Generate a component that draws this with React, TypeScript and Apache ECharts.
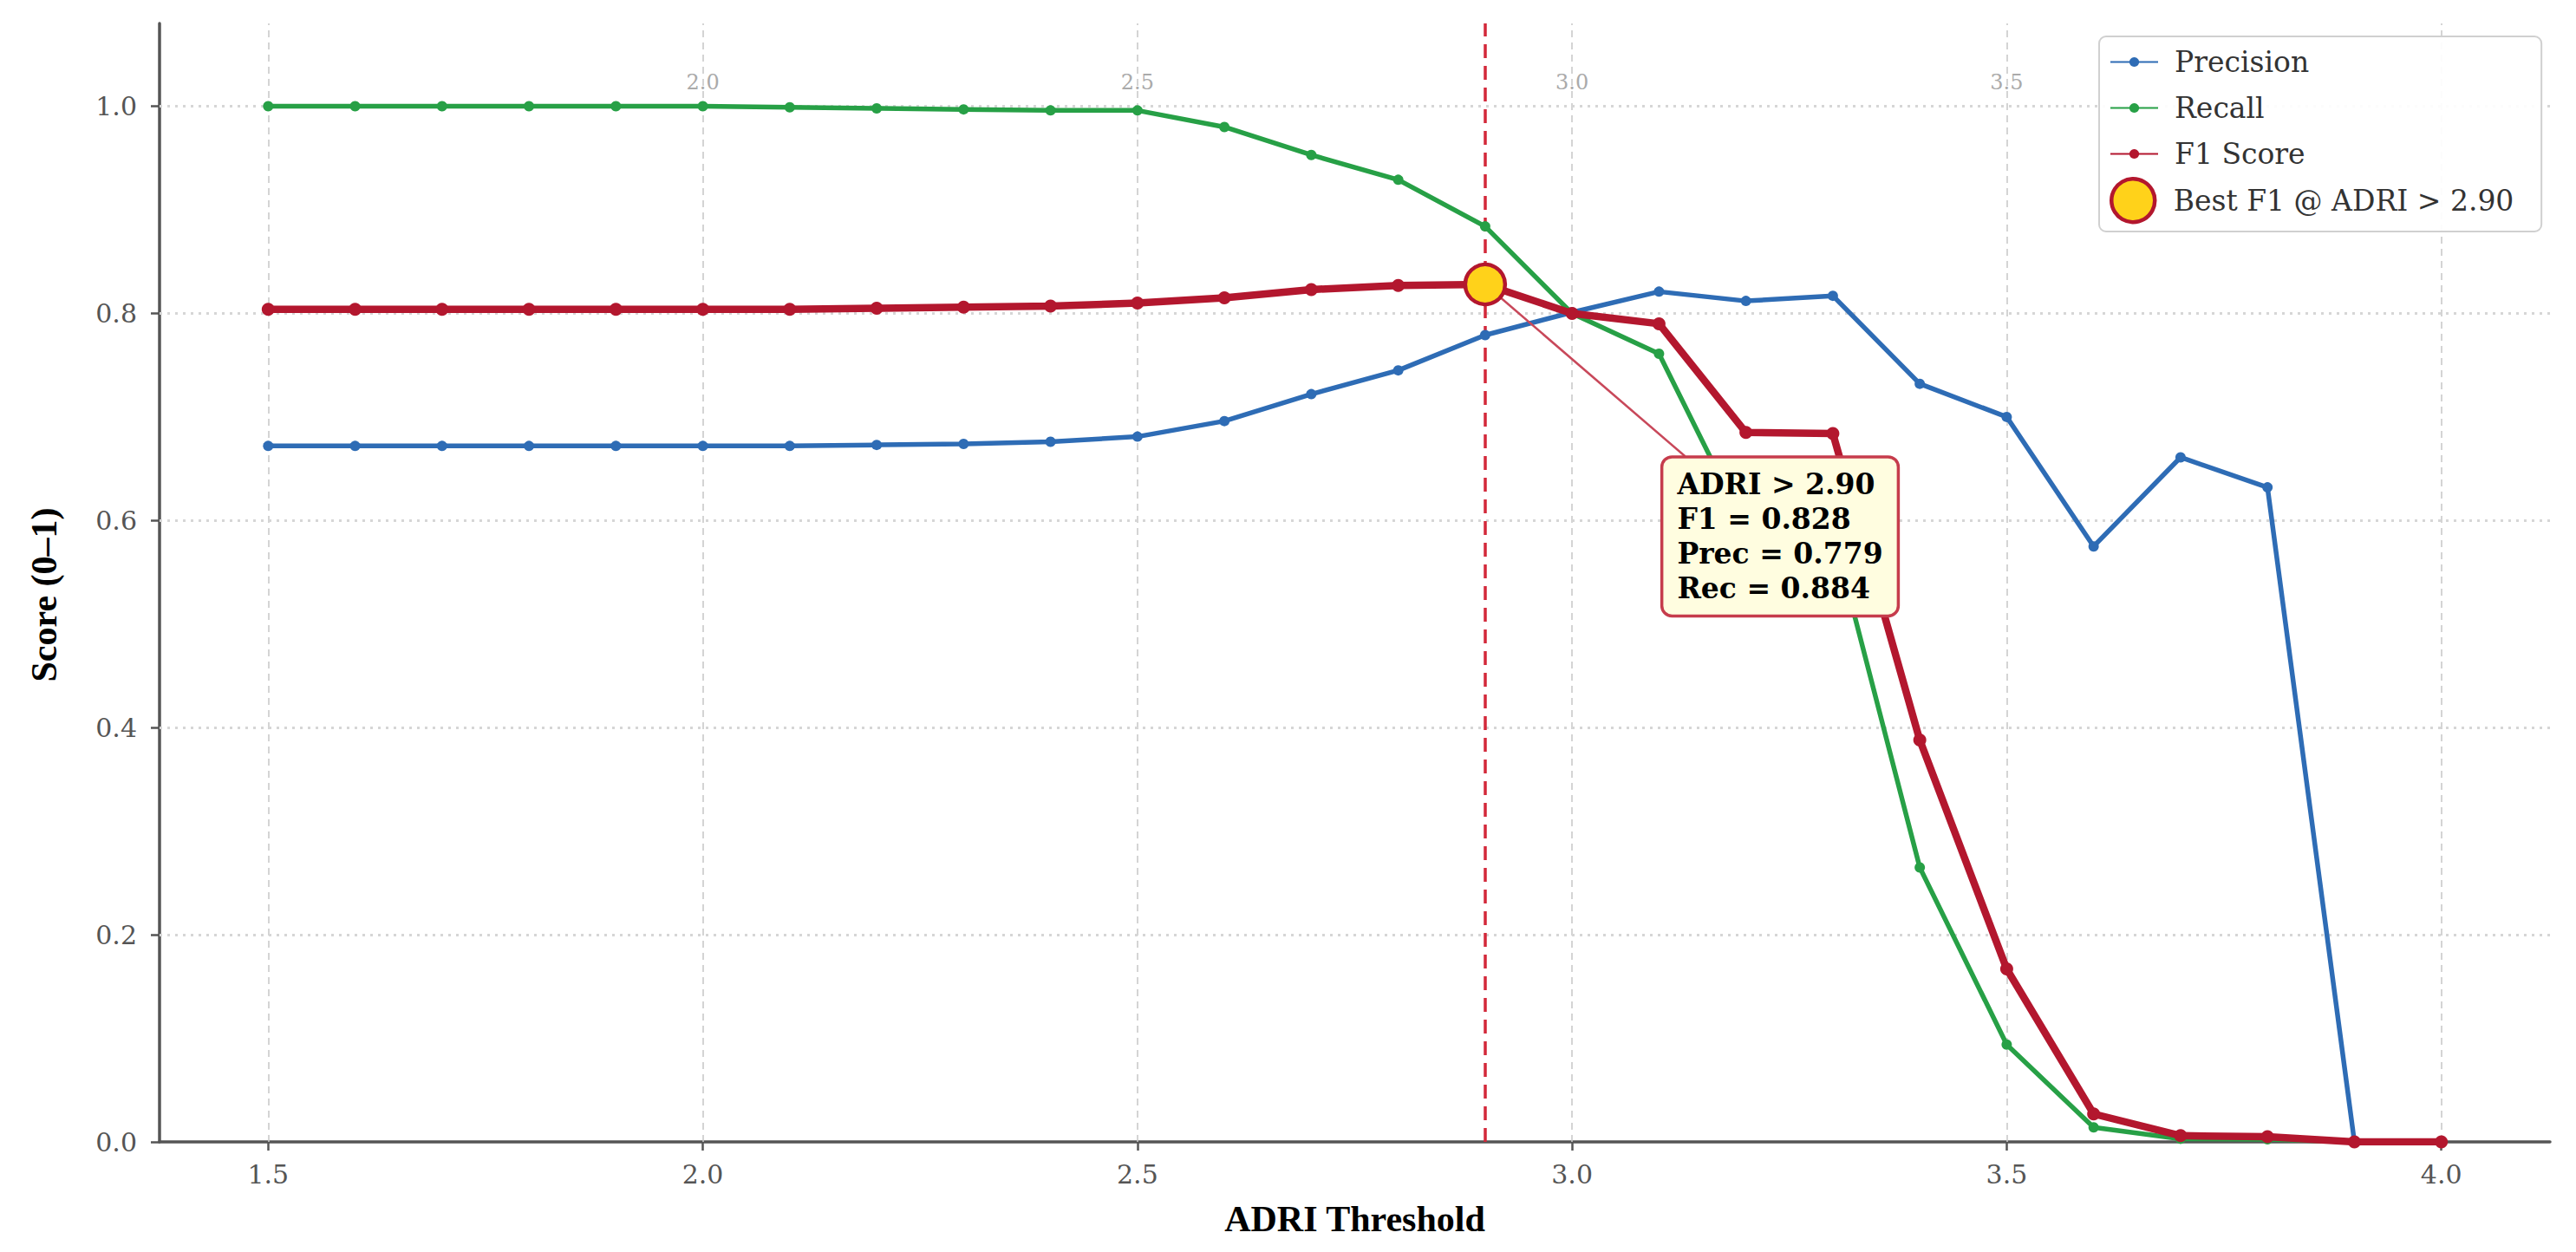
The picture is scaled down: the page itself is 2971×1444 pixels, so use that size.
import React, { useEffect, useRef } from "react";
import * as echarts from "echarts";

// ---------- data ----------
const thresholds = [
  1.5, 1.6, 1.7, 1.8, 1.9, 2.0, 2.1, 2.2, 2.3, 2.4, 2.5, 2.6, 2.7,
  2.8, 2.9, 3.0, 3.1, 3.2, 3.3, 3.4, 3.5, 3.6, 3.7, 3.8, 3.9, 4.0,
];
const precision = [
  0.672, 0.672, 0.672, 0.672, 0.672, 0.672, 0.672, 0.673, 0.674, 0.676, 0.681, 0.696, 0.722,
  0.745, 0.779, 0.801, 0.821, 0.812, 0.817, 0.732, 0.7, 0.575, 0.661, 0.632, 0.0, 0.0,
];
const recall = [
  1.0, 1.0, 1.0, 1.0, 1.0, 1.0, 0.999, 0.998, 0.997, 0.996, 0.996, 0.98, 0.953,
  0.929, 0.884, 0.8, 0.761, 0.592, 0.589, 0.265, 0.094, 0.014, 0.003, 0.0025, 0.0, 0.0,
];
const f1Score = [
  0.804, 0.804, 0.804, 0.804, 0.804, 0.804, 0.804, 0.805, 0.806, 0.807, 0.81, 0.815, 0.823,
  0.827, 0.828, 0.8, 0.79, 0.685, 0.684, 0.388, 0.167, 0.027, 0.006, 0.005, 0.0, 0.0,
];

const xTickValues = [1.5, 2.0, 2.5, 3.0, 3.5, 4.0];
const topTickValues = [2.0, 2.5, 3.0, 3.5];
const yTickValues = [0.0, 0.2, 0.4, 0.6, 0.8, 1.0];
const yGridValues = [0.2, 0.4, 0.6, 0.8, 1.0];

const bestThreshold = 2.9;
const bestF1 = 0.828;
const bestPrec = 0.779;
const bestRec = 0.884;
const annotationAnchor = [3.105, 0.66];
const connectorEnd = [3.13, 0.662];

const X_MIN = 1.375;
const X_MAX = 4.125;
const Y_MIN = 0;
const Y_MAX = 1.08;

// ---------- styles ----------
const BLUE = "#2e6cb5";
const GREEN = "#27a046";
const RED = "#b3172e";
const DASH_RED = "#d3283a";
const GOLD = "#ffd21a";
const SERIF = "DejaVu Serif";
const TIMES = "Liberation Serif";

const bestName = `Best F1 @ ADRI > ${bestThreshold.toFixed(2)}`;

export default function App() {
  const ref = useRef<HTMLDivElement | null>(null);

  useEffect(() => {
    document.body.style.margin = "0";
    document.body.style.overflow = "hidden";
    if (!ref.current) return;
    const chart = echarts.init(ref.current, null, { renderer: "svg" });

    const toPairs = (ys: number[]) => thresholds.map((t, i) => [t, ys[i]]);

    const option: any = {
      animation: false,
      backgroundColor: "#ffffff",
      grid: { left: 184, right: 30, top: 27, bottom: 127, containLabel: false },
      xAxis: [
        {
          type: "value",
          min: X_MIN,
          max: X_MAX,
          name: "ADRI Threshold",
          nameLocation: "middle",
          nameGap: 68,
          nameTextStyle: { fontFamily: TIMES, fontWeight: "bold", fontSize: 42, color: "#000" },
          axisLine: { show: true, lineStyle: { color: "#555", width: 3.5 } },
          axisTick: { show: true, customValues: xTickValues, length: 10, lineStyle: { color: "#555", width: 2.5 } },
          axisLabel: {
            customValues: xTickValues,
            formatter: (v: number) => v.toFixed(1),
            margin: 22,
            fontFamily: SERIF,
            fontSize: 30,
            color: "#555",
          },
          splitLine: { show: false },
        },
        {
          type: "value",
          position: "top",
          min: X_MIN,
          max: X_MAX,
          axisLine: { show: false },
          axisTick: { show: false },
          axisLabel: {
            inside: true,
            customValues: topTickValues,
            formatter: (v: number) => v.toFixed(1),
            margin: 56,
            fontFamily: SERIF,
            fontSize: 24,
            color: "#aaaaaa",
          },
          splitLine: { show: false },
        },
      ],
      yAxis: {
        type: "value",
        min: Y_MIN,
        max: Y_MAX,
        name: "Score (0\u20131)",
        nameLocation: "middle",
        nameGap: 112,
        nameTextStyle: {
          fontFamily: TIMES,
          fontWeight: "bold",
          fontSize: 42,
          color: "#000",
          padding: [0, 28, 0, 0],
        },
        axisLine: { show: true, lineStyle: { color: "#555", width: 3.5 } },
        axisTick: { show: true, customValues: yTickValues, length: 10, lineStyle: { color: "#555", width: 2.5 } },
        axisLabel: {
          customValues: yTickValues,
          formatter: (v: number) => v.toFixed(1),
          margin: 26,
          fontFamily: SERIF,
          fontSize: 30,
          color: "#555",
        },
        splitLine: { show: false },
      },
      legend: [
        {
          data: ["Precision", "Recall", "F1 Score"],
          orient: "vertical",
          left: 2421,
          top: 42,
          itemWidth: 55,
          itemHeight: 14,
          itemGap: 20,
          padding: [13, 268, 73, 12],
          backgroundColor: "rgba(255,255,255,0.92)",
          borderColor: "#d0d0d0",
          borderWidth: 2,
          borderRadius: 8,
          selectedMode: false,
          textStyle: { fontFamily: SERIF, fontSize: 33, color: "#333", padding: [0, 0, 0, 14] },
          z: 20,
        },
        {
          data: [
            {
              name: bestName,
              icon: "circle",
              itemStyle: { color: GOLD, borderColor: RED, borderWidth: 4.5 },
            },
          ],
          orient: "vertical",
          left: 2433,
          top: 204,
          itemWidth: 55,
          itemHeight: 50,
          padding: 0,
          selectedMode: false,
          textStyle: { fontFamily: SERIF, fontSize: 33, color: "#333", padding: [0, 0, 0, 14] },
          z: 21,
        },
      ],
      series: [
        {
          name: "Precision",
          type: "line",
          data: toPairs(precision),
          z: 3,
          symbol: "circle",
          symbolSize: 12,
          showSymbol: true,
          itemStyle: { color: BLUE },
          lineStyle: { color: BLUE, width: 5.5 },
          markLine: {
            silent: true,
            z: 1,
            symbol: ["none", "none"],
            label: { show: false },
            data: [
              ...xTickValues.map((v) => ({
                xAxis: v,
                lineStyle: { color: "#cacaca", width: 1.6, type: [8, 6] },
              })),
              ...yGridValues.map((v) => ({
                yAxis: v,
                lineStyle: { color: "#d6d6d6", width: 3, type: [3, 6] },
              })),
            ],
          },
        },
        {
          name: "Recall",
          type: "line",
          data: toPairs(recall),
          z: 3,
          symbol: "circle",
          symbolSize: 12,
          itemStyle: { color: GREEN },
          lineStyle: { color: GREEN, width: 5.5 },
          markLine: {
            silent: true,
            z: 2,
            symbol: ["none", "none"],
            label: { show: false },
            data: [{ xAxis: bestThreshold, lineStyle: { color: DASH_RED, width: 3.5, type: [16, 9] } }],
          },
        },
        {
          name: "F1 Score",
          type: "line",
          data: toPairs(f1Score),
          z: 4,
          symbol: "circle",
          symbolSize: 15,
          itemStyle: { color: RED },
          lineStyle: { color: RED, width: 8.5 },
        },
        {
          name: "connector",
          type: "line",
          data: [
            [bestThreshold, bestF1],
            connectorEnd,
          ],
          z: 5,
          symbol: "none",
          lineStyle: { color: "#c8485a", width: 2.5 },
          silent: true,
        },
        {
          name: bestName,
          type: "scatter",
          data: [[bestThreshold, bestF1]],
          z: 6,
          symbol: "circle",
          symbolSize: 46,
          itemStyle: { color: GOLD, borderColor: RED, borderWidth: 4.5, opacity: 1 },
        },
        {
          name: "annotation",
          type: "scatter",
          data: [annotationAnchor],
          z: 7,
          symbolSize: 0,
          itemStyle: { color: "#ffffff", opacity: 1 },
          silent: true,
          label: {
            show: true,
            position: [0, 0],
            align: "left",
            verticalAlign: "top",
            formatter: [
              `ADRI > ${bestThreshold.toFixed(2)}`,
              `F1 = ${bestF1.toFixed(3)}`,
              `Prec = ${bestPrec.toFixed(3)}`,
              `Rec = ${bestRec.toFixed(3)}`,
            ].join("\n"),
            fontFamily: SERIF,
            fontWeight: "bold",
            fontSize: 33,
            lineHeight: 40,
            color: "#000000",
            opacity: 1,
            backgroundColor: "#fffde0",
            borderColor: "#c63c4c",
            borderWidth: 3.5,
            borderRadius: 10,
            padding: [10, 16, 10, 16],
          },
        },
      ],
    };

    chart.setOption(option);
    return () => chart.dispose();
  }, []);

  return <div ref={ref} style={{ width: 2971, height: 1444 }} />;
}
